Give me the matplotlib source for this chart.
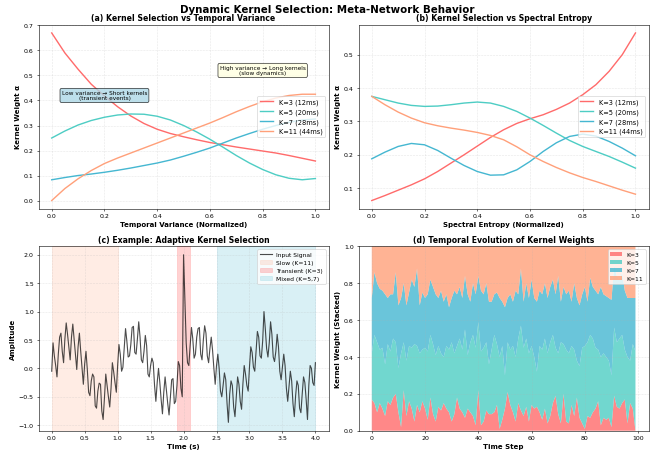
import numpy as np
import matplotlib
matplotlib.use('Agg')
import matplotlib.pyplot as plt

colors = ['#FF6B6B', '#4ECDC4', '#45B7D1', '#FFA07A']
kernel_labels = ['K=3 (12ms)', 'K=5 (20ms)', 'K=7 (28ms)', 'K=11 (44ms)']

# (a) weights vs temporal variance, x = 0, 0.05, ..., 1.0
var_x = np.linspace(0, 1, 21)
var_k3 = [0.67, 0.59, 0.525, 0.465, 0.418, 0.375, 0.338, 0.308, 0.285, 0.268, 0.255,
          0.243, 0.232, 0.223, 0.214, 0.206, 0.198, 0.19, 0.18, 0.169, 0.158]
var_k5 = [0.25, 0.278, 0.302, 0.32, 0.333, 0.342, 0.346, 0.345, 0.337, 0.322, 0.30,
          0.274, 0.245, 0.213, 0.18, 0.15, 0.124, 0.103, 0.089, 0.083, 0.088]
var_k7 = [0.083, 0.092, 0.10, 0.106, 0.113, 0.121, 0.13, 0.14, 0.15, 0.162, 0.177,
          0.193, 0.21, 0.23, 0.25, 0.268, 0.285, 0.30, 0.313, 0.322, 0.326]
var_k11 = [0.0, 0.048, 0.087, 0.12, 0.148, 0.17, 0.19, 0.21, 0.23, 0.25, 0.27,
           0.29, 0.31, 0.332, 0.355, 0.376, 0.395, 0.41, 0.42, 0.425, 0.425]

# (b) weights vs spectral entropy
ent_x = np.linspace(0, 1, 21)
ent_k3 = [0.063, 0.078, 0.094, 0.11, 0.128, 0.15, 0.175, 0.2, 0.226, 0.252, 0.275,
          0.294, 0.308, 0.32, 0.336, 0.355, 0.38, 0.41, 0.45, 0.5, 0.565]
ent_k5 = [0.375, 0.365, 0.355, 0.348, 0.345, 0.346, 0.35, 0.355, 0.358, 0.355, 0.345,
          0.33, 0.31, 0.288, 0.265, 0.243, 0.225, 0.21, 0.195, 0.178, 0.16]
ent_k7 = [0.188, 0.208, 0.225, 0.234, 0.23, 0.213, 0.19, 0.168, 0.15, 0.139, 0.14,
          0.155, 0.18, 0.21, 0.236, 0.255, 0.262, 0.256, 0.24, 0.22, 0.197]
ent_k11 = [0.375, 0.35, 0.328, 0.31, 0.296, 0.287, 0.28, 0.274, 0.267, 0.258, 0.245,
           0.224, 0.2, 0.18, 0.162, 0.146, 0.132, 0.12, 0.107, 0.094, 0.082]

# (c) input signal, t = 0 .. 4 s step 0.02
sig_t = np.linspace(0, 4, 201)
signal = [
    -0.05, 0.45, 0.22, 0.05, -0.15, 0.25, 0.55, 0.62, 0.30, 0.10,
    0.52, 0.80, 0.60, 0.38, 0.15, 0.55, 0.78, 0.52, 0.25, -0.02,
    0.38, 0.62, 0.30, 0.02, -0.28, 0.08, 0.30, -0.02, -0.42, -0.48,
    -0.22, -0.10, -0.15, -0.66, -0.70, -0.40, -0.26, -0.28, -0.75, -0.90,
    -0.52, -0.10, -0.30, -0.50, -0.68, -0.35, 0.10, -0.06, -0.25, -0.42,
    0.05, 0.42, 0.25, -0.05, 0.02, 0.35, 0.70, 0.48, 0.20, 0.22,
    0.42, 0.72, 0.74, 0.28, 0.25, 0.52, 0.82, 0.55, 0.15, 0.10,
    0.30, 0.58, 0.40, -0.10, -0.15, 0.05, 0.18, 0.10, -0.30, -0.58,
    -0.25, 0.00, -0.25, -0.55, -0.80, -0.42, -0.15, -0.38, -0.62, -0.82,
    -0.50, -0.20, -0.18, -0.62, -0.58, -0.30, 0.12, 0.05, -0.35, -0.50,
    2.00, 1.20, 0.45, 0.10, 0.05, 0.40, 0.72, 0.52, 0.18, 0.25,
    0.55, 0.70, 0.72, 0.25, 0.15, 0.50, 0.75, 0.62, 0.22, 0.10,
    0.35, 0.55, 0.32, 0.00, -0.28, 0.05, 0.25, 0.00, -0.40, -0.50,
    -0.30, -0.08, -0.20, -0.62, -0.95, -0.45, -0.22, -0.30, -0.68, -0.85,
    -0.50, -0.15, -0.28, -0.58, -0.72, -0.28, 0.05, -0.10, -0.30, -0.40,
    0.02, 0.38, 0.28, 0.02, -0.05, 0.30, 0.65, 0.55, 0.22, 0.18,
    0.48, 1.00, 0.70, 0.35, 0.20, 0.45, 0.82, 0.60, 0.20, 0.12,
    0.30, 0.60, 0.38, -0.05, -0.20, 0.02, 0.25, 0.05, -0.35, -0.58,
    -0.32, -0.05, -0.22, -0.62, -0.85, -0.48, -0.22, -0.30, -0.70, -0.78,
    -0.45, -0.15, -0.25, -0.55, -0.90, -0.30, 0.05, 0.00, -0.25, -0.30,
    0.10]
regions = [(0.0, 1.0, '#FFA07A', 0.2, 'Slow (K=11)'),
           (1.9, 2.1, '#FF6B6B', 0.3, 'Transient (K=3)'),
           (2.5, 4.0, '#45B7D1', 0.2, 'Mixed (K=5,7)')]

# (d) stacked levels over 100 time steps
steps = np.arange(100)
level_k3 = [0.17, 0.15, 0.10, 0.15, 0.12, 0.08, 0.16, 0.14, 0.18, 0.20,
            0.10, 0.02, 0.22, 0.08, 0.16, 0.12, 0.05, 0.14, 0.10, 0.16,
            0.12, 0.06, 0.18, 0.09, 0.05, 0.13, 0.11, 0.15, 0.12, 0.10,
            0.05, 0.09, 0.18, 0.12, 0.10, 0.07, 0.12, 0.10, 0.08, 0.03,
            0.22, 0.03, 0.05, 0.11, 0.09, 0.09, 0.10, 0.14, 0.01, 0.06,
            0.12, 0.21, 0.14, 0.10, 0.05, 0.15, 0.11, 0.08, 0.13, 0.05,
            0.14, 0.12, 0.13, 0.10, 0.06, 0.12, 0.04, 0.08, 0.15, 0.19,
            0.09, 0.04, 0.20, 0.05, 0.04, 0.14, 0.08, 0.18, 0.07, 0.04,
            0.01, 0.08, 0.07, 0.10, 0.12, 0.16, 0.03, 0.07, 0.06, 0.07,
            0.02, 0.19, 0.13, 0.12, 0.15, 0.17, 0.04, 0.15, 0.12, 0.00]
level_k5 = [0.42, 0.52, 0.48, 0.44, 0.45, 0.36, 0.47, 0.43, 0.50, 0.48,
            0.34, 0.42, 0.48, 0.38, 0.46, 0.45, 0.47, 0.46, 0.42, 0.44,
            0.45, 0.43, 0.52, 0.47, 0.41, 0.46, 0.42, 0.40, 0.46, 0.44,
            0.48, 0.42, 0.46, 0.50, 0.44, 0.55, 0.41, 0.48, 0.52, 0.45,
            0.59, 0.43, 0.45, 0.48, 0.36, 0.44, 0.52, 0.47, 0.40, 0.46,
            0.30, 0.48, 0.44, 0.46, 0.40, 0.50, 0.57, 0.45, 0.50, 0.42,
            0.46, 0.40, 0.32, 0.46, 0.44, 0.50, 0.42, 0.48, 0.52, 0.45,
            0.42, 0.48, 0.47, 0.44, 0.42, 0.46, 0.44, 0.38, 0.35, 0.45,
            0.46, 0.48, 0.52, 0.50, 0.45, 0.44, 0.40, 0.42, 0.40, 0.38,
            0.30, 0.56, 0.48, 0.50, 0.52, 0.44, 0.40, 0.38, 0.47, 0.43]
level_k7 = [0.72, 0.86, 0.80, 0.77, 0.76, 0.74, 0.72, 0.74, 0.74, 0.86,
            0.68, 0.72, 0.80, 0.68, 0.75, 0.82, 0.78, 0.88, 0.68, 0.75,
            0.72, 0.74, 0.82, 0.78, 0.74, 0.72, 0.76, 0.70, 0.74, 0.67,
            0.72, 0.76, 0.74, 0.78, 0.72, 0.84, 0.74, 0.70, 0.80, 0.74,
            0.84, 0.76, 0.74, 0.80, 0.70, 0.70, 0.74, 0.75, 0.72, 0.70,
            0.67, 0.72, 0.74, 0.70, 0.76, 0.74, 0.88, 0.70, 0.80, 0.72,
            0.82, 0.72, 0.70, 0.76, 0.74, 0.80, 0.72, 0.78, 0.82, 0.74,
            0.84, 0.70, 0.78, 0.74, 0.76, 0.70, 0.80, 0.72, 0.68, 0.74,
            0.78, 0.70, 0.83, 0.78, 0.76, 0.74, 0.78, 0.74, 0.73, 0.72,
            0.71, 0.90, 0.84, 0.82, 0.86, 0.76, 0.72, 0.72, 0.72, 0.72]
stack_labels = ['K=3', 'K=5', 'K=7', 'K=11']

plt.rcParams['xtick.labelsize'] = 9
plt.rcParams['ytick.labelsize'] = 9

fig, axes = plt.subplots(2, 2, figsize=(13, 9))
ax1, ax2, ax3, ax4 = axes.flatten()
ax1.set_position([0.0588, 0.5381, 0.4427, 0.4064])
ax2.set_position([0.5473, 0.5381, 0.4427, 0.4064])
ax3.set_position([0.0588, 0.0491, 0.4427, 0.4064])
ax4.set_position([0.5473, 0.0491, 0.4427, 0.4064])

fig.suptitle('Dynamic Kernel Selection: Meta-Network Behavior', fontsize=14.7,
             fontweight='bold', y=0.99)

# (a)
for ys, c, lab in zip([var_k3, var_k5, var_k7, var_k11], colors, kernel_labels):
    ax1.plot(var_x, ys, color=c, linewidth=2, label=lab)
ax1.set_title('(a) Kernel Selection vs Temporal Variance', fontsize=11, fontweight='bold')
ax1.set_xlabel('Temporal Variance (Normalized)', fontsize=10, fontweight='bold')
ax1.set_ylabel('Kernel Weight α', fontsize=10, fontweight='bold')
ax1.legend(loc='center right', fontsize=9.5)
ax1.grid(True, alpha=0.3, linestyle='--')
ax1.text(0.2, 0.42, 'Low variance → Short kernels\n(transient events)', ha='center',
         va='center', fontsize=8.3,
         bbox=dict(boxstyle='round', facecolor='lightblue', alpha=0.8))
ax1.text(0.8, 0.52, 'High variance → Long kernels\n(slow dynamics)', ha='center',
         va='center', fontsize=8.3,
         bbox=dict(boxstyle='round', facecolor='lightyellow', alpha=0.8))

# (b)
for ys, c, lab in zip([ent_k3, ent_k5, ent_k7, ent_k11], colors, kernel_labels):
    ax2.plot(ent_x, ys, color=c, linewidth=2, label=lab)
ax2.set_title('(b) Kernel Selection vs Spectral Entropy', fontsize=11, fontweight='bold')
ax2.set_xlabel('Spectral Entropy (Normalized)', fontsize=10, fontweight='bold')
ax2.set_ylabel('Kernel Weight α', fontsize=10, fontweight='bold')
ax2.legend(loc='center right', fontsize=9.5)
ax2.grid(True, alpha=0.3, linestyle='--')

# (c)
ax3.plot(sig_t, signal, color='black', linewidth=1.6, alpha=0.7, label='Input Signal')
for x0, x1, c, a, lab in regions:
    ax3.axvspan(x0, x1, color=c, alpha=a, label=lab)
ax3.set_title('(c) Example: Adaptive Kernel Selection', fontsize=11, fontweight='bold')
ax3.set_xlabel('Time (s)', fontsize=10, fontweight='bold')
ax3.set_ylabel('Amplitude', fontsize=10, fontweight='bold')
ax3.legend(loc='upper right', fontsize=8.5)
ax3.grid(True, alpha=0.3, linestyle='--')

# (d)
levels = np.vstack([np.zeros(100), level_k3, level_k5, level_k7, np.ones(100)])
weights = np.diff(levels, axis=0)
ax4.stackplot(steps, weights, labels=stack_labels, colors=colors, alpha=0.8)
ax4.set_title('(d) Temporal Evolution of Kernel Weights', fontsize=11, fontweight='bold')
ax4.set_xlabel('Time Step', fontsize=10, fontweight='bold')
ax4.set_ylabel('Kernel Weight (Stacked)', fontsize=10, fontweight='bold')
ax4.set_ylim(0, 1)
ax4.legend(loc='upper right', fontsize=8.5)
ax4.grid(True, alpha=0.3, linestyle='--')

plt.savefig('out.png', dpi=50.4)
